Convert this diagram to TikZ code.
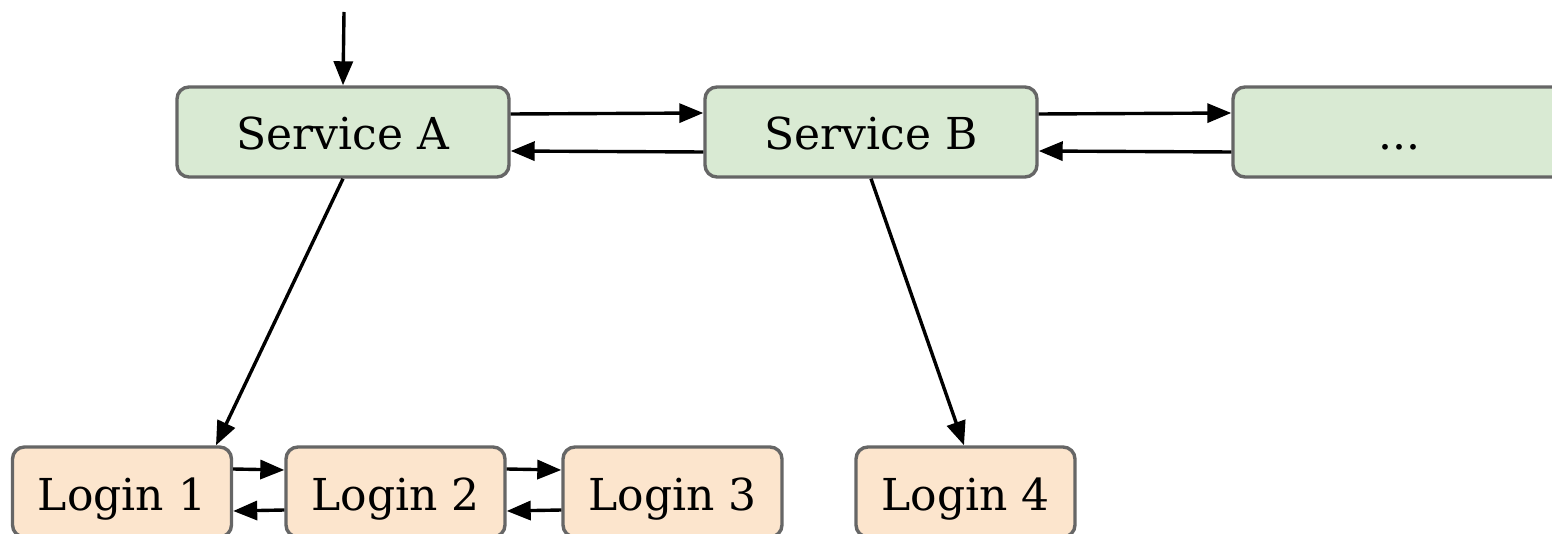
\documentclass[tikz,border=0pt]{standalone}
\usepackage{fontspec}
\setmainfont{DejaVu Serif}
\usetikzlibrary{arrows.meta}
\definecolor{svcfill}{HTML}{D9EAD3}
\definecolor{logfill}{HTML}{FCE5CD}
\definecolor{boxline}{HTML}{666666}
\tikzset{
  basebox/.style={draw=boxline, line width=1.7pt, rounded corners=6pt,
    minimum height=45pt, inner sep=0pt, text height=20pt, text depth=2pt,
    font=\fontsize{22}{26}\selectfont},
  svcbox/.style={basebox, fill=svcfill, minimum width=166pt},
  logbox/.style={basebox, fill=logfill, minimum width=109.5pt},
  conn/.style={draw=black, line width=1.7pt, -{Triangle[length=12pt,width=9.5pt]}}
}
\begin{document}
\begin{tikzpicture}[x=0.5pt,y=-0.5pt]
\useasboundingbox (0,0) rectangle (1552,534);
\clip (0,0) rectangle (1552,534);
\node[svcbox] (A) at (343,132) {Service A};
\node[svcbox] (B) at (871,132) {Service B};
\node[svcbox] (C) at (1399,132) {...};
\node[logbox] (L1) at (122,492) {Login 1};
\node[logbox] (L2) at (395.5,492) {Login 2};
\node[logbox] (L3) at (672.5,492) {Login 3};
\node[logbox] (L4) at (965.5,492) {Login 4};
\coordinate (in) at (344,12);
\draw[conn] (in) -- (A.north);
\draw[conn] ([yshift=9pt]A.east) -- ([yshift=9.5pt]B.west);
\draw[conn] ([yshift=-10pt]B.west) -- ([yshift=-9.5pt]A.east);
\draw[conn] ([yshift=9pt]B.east) -- ([yshift=9.5pt]C.west);
\draw[conn] ([yshift=-10pt]C.west) -- ([yshift=-9.5pt]B.east);
\draw[conn] (A.south) -- ([xshift=47pt]L1.north);
\draw[conn] (B.south) -- ([xshift=-0.75pt]L4.north);
\draw[conn] ([yshift=11.5pt]L1.east) -- ([yshift=11pt]L2.west);
\draw[conn] ([yshift=-9pt]L2.west) -- ([yshift=-9.5pt]L1.east);
\draw[conn] ([yshift=11.5pt]L2.east) -- ([yshift=11pt]L3.west);
\draw[conn] ([yshift=-9pt]L3.west) -- ([yshift=-9.5pt]L2.east);
\end{tikzpicture}
\end{document}
